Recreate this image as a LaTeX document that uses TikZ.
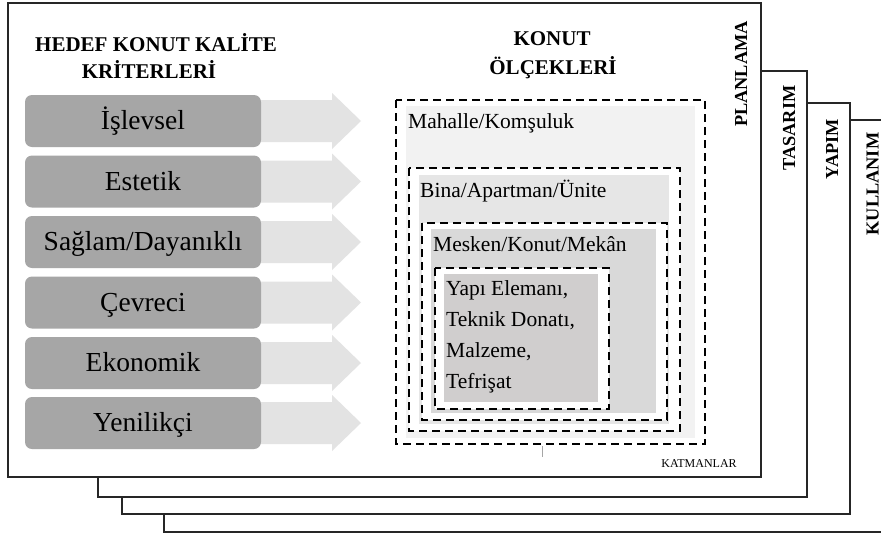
\documentclass[tikz,border=0pt]{standalone}
\usepackage{fontspec}
\setmainfont{Liberation Serif}
\usetikzlibrary{calc}
\definecolor{critgray}{HTML}{A6A6A6}
\definecolor{arrowgray}{HTML}{E3E3E3}
\definecolor{lvA}{HTML}{F2F2F2}
\definecolor{lvB}{HTML}{E6E6E6}
\definecolor{lvC}{HTML}{D9D9D9}
\definecolor{lvD}{HTML}{D0CECE}
\definecolor{framecol}{HTML}{262626}
\begin{document}
\begin{tikzpicture}[x=1pt,y=-1pt,
  layer/.style={draw=framecol,line width=1.3pt,fill=white},
  critbox/.style={fill=critgray,rounded corners=7pt,minimum width=236pt,minimum height=52pt,inner sep=0pt,draw=none},
  critlabel/.style={anchor=base,font=\fontsize{27.5}{32}\selectfont,inner sep=0pt},
  blockarrow/.style={fill=arrowgray,draw=none},
  scalebox/.style={draw=black,dash pattern=on 8pt off 5pt,line width=2.3pt,fill=white},
  scalelabel/.style={anchor=base west,font=\fontsize{21.5}{25}\selectfont,inner sep=0pt},
  titlelabel/.style={anchor=base,font=\bfseries\fontsize{21}{25}\selectfont,inner sep=0pt},
  phaselabel/.style={anchor=base,rotate=90,font=\bfseries\fontsize{18.3}{22}\selectfont,inner sep=0pt},
  smalllabel/.style={anchor=base,font=\fontsize{12}{14}\selectfont,inner sep=0pt},
]
\useasboundingbox (0,0) rectangle (881,533);
% stacked layer frames
\draw[layer] (881,120) -- (164,120) -- (164,532) -- (881,532);
\draw[layer] (122,103) rectangle (850,514);
\draw[layer] (98,71) rectangle (807,497);
\draw[layer] (8,3) rectangle (761,477);
% titles
\node[titlelabel] (t1) at (156,51) {HEDEF KONUT KALİTE};
\node[titlelabel] (t2) at (149,78) {KRİTERLERİ};
\node[titlelabel] (t3) at (552,45) {KONUT};
\node[titlelabel] (t4) at (553,74) {ÖLÇEKLERİ};
% criteria boxes and block arrows
\foreach \i/\yc/\txt in {1/121/{İşlevsel},2/181.5/{Estetik},3/242/{Sağlam/Dayanıklı},4/302.5/{Çevreci},5/363/{Ekonomik},6/423/{Yenilikçi}} {
  \fill[blockarrow] (250,\yc-21) -- (332,\yc-21) -- (332,\yc-28) -- (361,\yc) -- (332,\yc+28) -- (332,\yc+21) -- (250,\yc+21) -- cycle;
  \node[critbox] (crit\i) at (143,\yc) {};
  \node[critlabel] (critlbl\i) at (143,\yc+8.5) {\txt};
}
% nested scale boxes
\draw[scalebox] (396,100) rectangle (705,444);
\fill[lvA] (406,106) rectangle (695,438);
\draw[scalebox] (409,168) rectangle (680,431);
\fill[lvB] (419,175) rectangle (669,424);
\draw[scalebox] (422,223) rectangle (667,420);
\fill[lvC] (431,229) rectangle (656,413);
\draw[scalebox] (435,268) rectangle (609,409);
\fill[lvD] (444,274) rectangle (598,402);
\draw[black!35,line width=0.6pt] (542,446) -- (542,457);
\node[scalelabel] (mahalle) at (408,128) {Mahalle/Komşuluk};
\node[scalelabel] (bina) at (420,197) {Bina/Apartman/Ünite};
\node[scalelabel] (mesken) at (433,251) {Mesken/Konut/Mekân};
\node[scalelabel] (yapi1) at (446,295) {Yapı Elemanı,};
\node[scalelabel] (yapi2) at (446,326) {Teknik Donatı,};
\node[scalelabel] (yapi3) at (446,357) {Malzeme,};
\node[scalelabel] (yapi4) at (446,388) {Tefrişat};
\node[smalllabel] (katman) at (699,467) {KATMANLAR};
% phase labels
\node[phaselabel] (p1) at (747,74) {PLANLAMA};
\node[phaselabel] (p2) at (795,128) {TASARIM};
\node[phaselabel] (p3) at (838,149) {YAPIM};
\node[phaselabel] (p4) at (878.5,184) {KULLANIM};
\end{tikzpicture}
\end{document}
